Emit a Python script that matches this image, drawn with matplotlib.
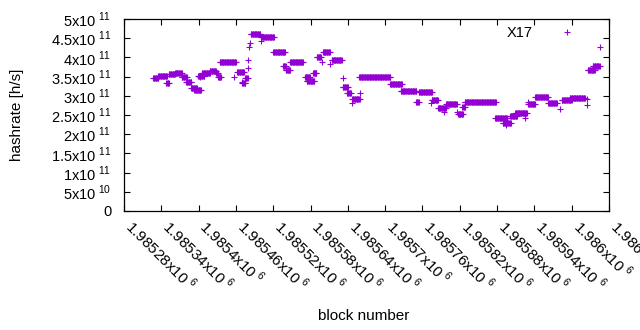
import numpy as np
import matplotlib
matplotlib.use('Agg')
import matplotlib.pyplot as plt

plt.rcParams['font.family'] = ['Liberation Sans', 'DejaVu Sans']
plt.rcParams['mathtext.fontset'] = 'custom'
plt.rcParams['mathtext.rm'] = 'Liberation Sans'
plt.rcParams['font.size'] = 10.5

# ---- data: runs of consecutive blocks with (nearly) constant hashrate, in 1e11 h/s ----
run_start = [1985327, 1985335, 1985348, 1985352, 1985362, 1985373, 1985380, 1985388, 1985393, 1985399,
             1985405, 1985418, 1985428, 1985431, 1985434, 1985462, 1985470, 1985475, 1985484, 1985500,
             1985520, 1985536, 1985540, 1985547, 1985571, 1985574, 1985584, 1985590, 1985600, 1985614,
             1985632, 1985639, 1985647, 1985659, 1985708, 1985725, 1985750, 1985754, 1985775, 1985785,
             1985798, 1985817, 1985824, 1985828, 1985877, 1985889, 1985901, 1985909, 1985930, 1985941,
             1985962, 1985984, 1985997, 1986026, 1986034]
run_end = [1985335, 1985349, 1985352, 1985362, 1985373, 1985381, 1985388, 1985397, 1985404, 1985409,
           1985418, 1985428, 1985431, 1985436, 1985460, 1985473, 1985475, 1985479, 1985499, 1985521,
           1985539, 1985540, 1985547, 1985568, 1985579, 1985586, 1985589, 1985597, 1985611, 1985630,
           1985640, 1985645, 1985659, 1985708, 1985727, 1985750, 1985754, 1985775, 1985785, 1985798,
           1985815, 1985825, 1985828, 1985878, 1985896, 1985902, 1985912, 1985928, 1985941, 1985962,
           1985976, 1986000, 1986021, 1986037, 1986045]
run_rate = [3.463, 3.508, 3.325, 3.555, 3.601, 3.489, 3.359, 3.203, 3.151, 3.515,
            3.594, 3.633, 3.581, 3.489, 3.880, 3.620, 3.333, 3.463, 4.601, 4.523,
            4.133, 3.776, 3.672, 3.872, 3.489, 3.385, 3.594, 4.010, 4.133, 3.924,
            3.229, 3.073, 2.917, 3.482, 3.299, 3.117, 2.846, 3.091, 2.890, 2.682,
            2.786, 2.526, 2.708, 2.831, 2.422, 2.292, 2.474, 2.552, 2.786, 2.969,
            2.812, 2.890, 2.935, 3.672, 3.768]

# isolated blocks
single_block = [1985402, 1985457, 1985470, 1985479, 1985479, 1985481, 1985483, 1985500, 1985587, 1985598,
                1985612, 1985632, 1985647, 1985658, 1985659, 1985774, 1985795, 1985815, 1985895, 1985925,
                1985930, 1985981, 1986024, 1986024, 1986045]
single_rate = [3.482, 3.502, 3.359, 3.716, 3.932, 4.279, 4.367, 4.427, 3.601, 3.880,
               3.820, 3.456, 2.812, 3.482, 3.065, 2.805, 2.570, 2.578, 2.239, 2.422,
               2.831, 2.656, 2.917, 2.760, 4.263]

series_name = "X17"

x_tick_values = [1985280, 1985340, 1985400, 1985460, 1985520, 1985580, 1985640,
                 1985700, 1985760, 1985820, 1985880, 1985940, 1986000, 1986060]
x_tick_mantissa = ["1.98528", "1.98534", "1.9854", "1.98546", "1.98552", "1.98558", "1.98564",
                   "1.9857", "1.98576", "1.98582", "1.98588", "1.98594", "1.986", "1.98606"]
y_tick_values = [0, 5e10, 1e11, 1.5e11, 2e11, 2.5e11, 3e11, 3.5e11, 4e11, 4.5e11, 5e11]
y_tick_mantissa = ["0", "5", "1", "1.5", "2", "2.5", "3", "3.5", "4", "4.5", "5"]
y_tick_exponent = ["", "10", "11", "11", "11", "11", "11", "11", "11", "11", "11"]

# ---- expand runs ----
bx, by = [], []
for s, e, r in zip(run_start, run_end, run_rate):
    blk = np.arange(s, e + 1)
    bx.append(blk)
    by.append(np.full(blk.shape, r * 1e11))
bx.append(np.array(single_block))
by.append(np.array(single_rate) * 1e11)
bx = np.concatenate(bx)
by = np.concatenate(by)


def sci(m, ex, trail=""):
    return r"$\mathregular{" + m + r"x10}^{\mathregular{\,\," + ex + r"}}" + trail + "$"


color = '#9400D3'
W, H = 640, 330
fig = plt.figure(figsize=(W / 100, H / 100), dpi=100)
L, R, T, B = 124, 609, 19, 211
ax = fig.add_axes([L / W, 1 - B / H, (R - L) / W, (B - T) / H])

ax.plot(bx, by, linestyle='none', marker='+', markersize=5, markeredgewidth=0.8,
        color=color, label=series_name)

ax.set_xlim(x_tick_values[0], x_tick_values[-1])
ax.set_ylim(0, 5e11)

ax.set_xticks(x_tick_values)
ax.set_xticklabels([sci(m, "6") for m in x_tick_mantissa],
                   rotation=-45, ha='left', va='baseline', rotation_mode='anchor',
                   fontsize=11)
ylabels = [sci(m, ex, r"\;\;") if ex else m for m, ex in zip(y_tick_mantissa, y_tick_exponent)]
ax.set_yticks(y_tick_values)
ax.set_yticklabels(ylabels, fontsize=10.5)

ax.tick_params(direction='in', length=4, width=0.8, top=True, right=True, colors='black')
ax.tick_params(axis='x', pad=12.5)
ax.tick_params(axis='y', pad=9)
for sp in ax.spines.values():
    sp.set_linewidth(0.9)

ax.set_xlabel("block number", fontsize=11, va='center')
ax.xaxis.set_label_coords(0.494, -(316 - B) / (B - T))
ax.set_ylabel("hashrate [h/s]", fontsize=11, va='center')
ax.yaxis.set_label_coords((17 - L) / (R - L), 0.5)

leg = ax.legend(loc='upper right', bbox_to_anchor=(582 / W, 1 - 26 / H),
                bbox_transform=fig.transFigure, frameon=False, markerfirst=False,
                handletextpad=1.4, handlelength=2.0, borderpad=0, borderaxespad=0,
                fontsize=10.5)

fig.savefig('out.png', dpi=100)
